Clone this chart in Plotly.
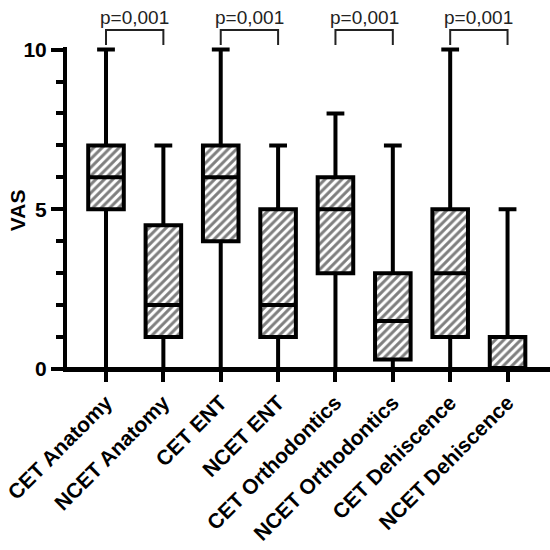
import plotly.graph_objects as go

categories = ["CET Anatomy", "NCET Anatomy", "CET ENT", "NCET ENT",
              "CET Orthodontics", "NCET Orthodontics", "CET Dehiscence", "NCET Dehiscence"]
lower = [0, 0, 0, 0, 0, 0, 0, 0]
q1 = [5, 1, 4, 1, 3, 0.3, 1, 0]
median = [6, 2, 6, 2, 5, 1.5, 3, 0]
q3 = [7, 4.5, 7, 5, 6, 3, 5, 1]
upper = [10, 7, 10, 7, 8, 7, 10, 5]
pairs = [(0, 1), (2, 3), (4, 5), (6, 7)]
p_labels = ["p=0,001", "p=0,001", "p=0,001", "p=0,001"]

FONT = "Arial, Liberation Sans, sans-serif"
BW = 0.62

fig = go.Figure()
fig.add_trace(go.Bar(
    x=categories, y=[b - a for a, b in zip(q1, q3)], base=q1, width=BW,
    marker=dict(color="white", line=dict(width=0),
                pattern=dict(shape="/", size=6, solidity=0.5, fgcolor="black", bgcolor="white")),
    showlegend=False, hoverinfo="skip"))
fig.add_trace(go.Box(
    x=categories, q1=q1, median=median, q3=q3, lowerfence=lower, upperfence=upper,
    width=BW, whiskerwidth=0.5, fillcolor="rgba(0,0,0,0)",
    line=dict(color="black", width=4), boxpoints=False, showlegend=False))

# baseline covering the lower whisker caps at 0
fig.add_shape(type="line", xref="paper", yref="y", x0=0, x1=1, y0=0, y1=0,
              line=dict(color="black", width=4), layer="above")

for (a, b), txt in zip(pairs, p_labels):
    fig.add_shape(type="path", xref="x", yref="paper",
                  path=f"M {a},1.006 L {a},1.053 L {b},1.053 L {b},1.006",
                  line=dict(color="#222", width=2))
    fig.add_annotation(x=(a + b) / 2, y=1.092, xref="x", yref="paper", text=txt,
                       showarrow=False, font=dict(family=FONT, size=19, color="#222"),
                       yanchor="middle")

fig.add_annotation(x=-0.101, y=0.494, xref="paper", yref="paper", text="<b>VAS</b>",
                   textangle=-90, showarrow=False, xanchor="center", yanchor="middle",
                   font=dict(family=FONT, size=21, color="black"))

fig.update_layout(
    width=550, height=550, margin=dict(l=67, r=0, t=47, b=181),
    paper_bgcolor="white", plot_bgcolor="white",
    barmode="overlay", boxmode="overlay",
    font=dict(family=FONT, color="black"),
    xaxis=dict(type="category", range=[-0.68, 7.74], showline=True, linewidth=3, linecolor="black",
               ticks="outside", ticklen=10, tickwidth=4, tickcolor="black", tickangle=-45,
               tickfont=dict(family=FONT, size=21, weight="bold"), showgrid=False, zeroline=False),
    yaxis=dict(range=[0, 10.08], showline=True, linewidth=4, linecolor="black",
               ticks="outside", ticklen=12, tickwidth=4, tickcolor="black",
               tickvals=[0, 5, 10], tickfont=dict(family=FONT, size=21, weight="bold"),
               minor=dict(dtick=1, ticks="outside", ticklen=7, tickwidth=4, tickcolor="black", showgrid=False),
               showgrid=False, zeroline=False),
)
fig.write_html("out.html")
